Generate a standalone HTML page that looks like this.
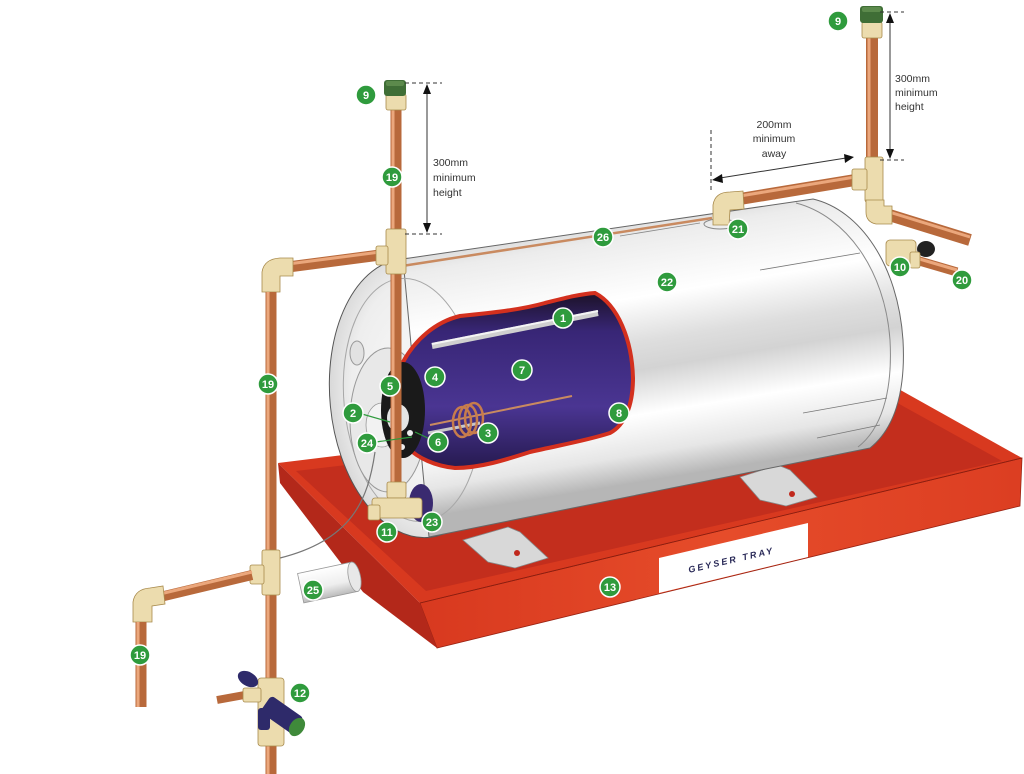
<!DOCTYPE html>
<html><head><meta charset="utf-8"><style>
html,body{margin:0;padding:0;background:#fff;}
svg{display:block;}
text{font-family:"Liberation Sans",sans-serif;}
.lbl circle{fill:#2f9b3d;stroke:#fff;stroke-width:1.5;}
.lbl text{fill:#fff;font-weight:bold;font-size:11px;text-anchor:middle;}
.dim{font-size:10.5px;fill:#333;}
.cu{stroke:#b8693b;stroke-linecap:butt;fill:none;}
.cuh{stroke:#eba77c;stroke-width:3;fill:none;}
.br{fill:#ecdcae;stroke:#a88a4c;stroke-width:0.8;}
</style></head><body>
<svg width="1024" height="774" viewBox="0 0 1024 774" xmlns="http://www.w3.org/2000/svg">
<defs>
 <linearGradient id="body" gradientUnits="userSpaceOnUse" x1="620" y1="205" x2="665" y2="478">
  <stop offset="0" stop-color="#cdcdcd"/>
  <stop offset="0.12" stop-color="#ececec"/>
  <stop offset="0.34" stop-color="#ffffff"/>
  <stop offset="0.5" stop-color="#dedede"/>
  <stop offset="0.6" stop-color="#d3d3d3"/>
  <stop offset="0.76" stop-color="#ffffff"/>
  <stop offset="0.9" stop-color="#e6e6e6"/>
  <stop offset="1" stop-color="#b6b6b6"/>
 </linearGradient>
 <radialGradient id="cap" cx="0.55" cy="0.5" r="0.6">
  <stop offset="0" stop-color="#fafafa"/>
  <stop offset="0.7" stop-color="#eeeeee"/>
  <stop offset="1" stop-color="#d0d0d0"/>
 </radialGradient>
 <linearGradient id="purp" x1="0" y1="0" x2="0" y2="1">
  <stop offset="0" stop-color="#1c1228"/>
  <stop offset="0.22" stop-color="#382676"/>
  <stop offset="0.65" stop-color="#4a3592"/>
  <stop offset="1" stop-color="#261a50"/>
 </linearGradient>
 <linearGradient id="front" x1="0" y1="0" x2="1" y2="0">
  <stop offset="0" stop-color="#d8391f"/>
  <stop offset="0.5" stop-color="#e64c2a"/>
  <stop offset="1" stop-color="#dc3e22"/>
 </linearGradient>
 <linearGradient id="pipe25" x1="0" y1="0" x2="0" y2="1">
  <stop offset="0" stop-color="#ffffff"/>
  <stop offset="0.6" stop-color="#eeeeee"/>
  <stop offset="1" stop-color="#bbbbbb"/>
 </linearGradient>
</defs>

<!-- TRAY -->
<polygon points="278,463 895,387 1022,458 420,603" fill="#d8391f"/>
<polygon points="296,471 892,400 1002,461 426,591" fill="#c32e1d"/>
<polygon points="420,603 1022,458 1020,506 437,648" fill="url(#front)" stroke="#9a2212" stroke-width="0.8"/>
<polygon points="278,463 420,603 437,648 363,592 280,483" fill="#b3281a"/>
<line x1="420" y1="603" x2="1022" y2="458" stroke="#8a1e10" stroke-width="0.8"/>
<polygon points="659,558 808,523 808,557 659,593" fill="#fff"/>
<text x="732" y="563" transform="rotate(-13 732 563)" font-size="9" font-weight="bold" font-style="italic" letter-spacing="2.2" fill="#2a2a58" text-anchor="middle">GEYSER TRAY</text>

<!-- feet -->
<polygon points="463,540 508,527 520,532 548,558 515,568 488,562" fill="#d8d8d8" stroke="#888" stroke-width="0.8"/>
<circle cx="517" cy="553" r="3" fill="#c0281c"/>
<polygon points="740,477 778,465 790,470 817,497 786,506 760,500" fill="#d8d8d8" stroke="#888" stroke-width="0.8"/>
<circle cx="792" cy="494" r="3" fill="#c0281c"/>

<!-- drain 25 -->
<g transform="rotate(-12 330 582)">
 <rect x="300" y="567" width="55" height="30" fill="url(#pipe25)" stroke="#999" stroke-width="0.8"/>
 <ellipse cx="355" cy="582" rx="6" ry="15" fill="#e8e8e8" stroke="#999" stroke-width="0.8"/>
</g>

<!-- TANK BODY -->
<ellipse cx="416" cy="398" rx="86" ry="140" transform="rotate(-5.5 416 398)" fill="url(#cap)" stroke="#555" stroke-width="1"/>
<path d="M403,259 L813,199 C860,210 898,265 903,340 C906,395 893,430 870,448 L429,537 Z" fill="url(#body)" stroke="#666" stroke-width="1"/>
<path d="M796,203 C846,216 885,270 890,340 C893,395 880,430 858,447" fill="none" stroke="#8a8a8a" stroke-width="1"/>
<line x1="760" y1="270" x2="860" y2="253" stroke="#777" stroke-width="0.8"/>
<line x1="803" y1="413" x2="887" y2="398" stroke="#777" stroke-width="0.8"/>
<line x1="817" y1="438" x2="880" y2="425" stroke="#777" stroke-width="0.8"/>
<line x1="620" y1="236" x2="700" y2="223" stroke="#888" stroke-width="0.8"/>
<!-- cap details -->
<ellipse cx="412" cy="400" rx="68" ry="122" transform="rotate(-5.5 412 400)" fill="none" stroke="#a8a8a8" stroke-width="1"/>
<ellipse cx="388" cy="420" rx="38" ry="72" fill="#e8e8e8" stroke="#999" stroke-width="1"/>
<ellipse cx="357" cy="353" rx="7" ry="12" fill="#e2e2e2" stroke="#999" stroke-width="1"/>
<ellipse cx="382" cy="425" rx="16" ry="22" fill="#f2f2f2" stroke="#999" stroke-width="0.8"/>

<!-- cutaway -->
<path d="M403,362 C415,340 435,322 460,316 C490,313 520,310 545,303 C565,298 580,294 595,293 C618,305 632,340 633,378 C633,405 625,425 610,433 C585,441 560,445 530,452 C505,460 480,468 455,468 C435,466 418,458 408,448 Z" fill="url(#purp)" stroke="#d3301e" stroke-width="4"/>
<line x1="432" y1="346" x2="598" y2="313" stroke="#cfcfcf" stroke-width="6"/>
<line x1="432" y1="344" x2="598" y2="311" stroke="#f4f4f4" stroke-width="2"/>
<line x1="430" y1="425" x2="572" y2="396" stroke="#c98a60" stroke-width="2"/>
<line x1="428" y1="433" x2="480" y2="423" stroke="#c8c8c8" stroke-width="3"/>
<g fill="none" stroke="#c77c4c" stroke-width="2.5">
 <ellipse cx="462" cy="422" rx="9" ry="15"/>
 <ellipse cx="468" cy="420" rx="9" ry="15"/>
 <ellipse cx="474" cy="418" rx="9" ry="15"/>
</g>
<ellipse cx="403" cy="410" rx="22" ry="48" fill="#1a1a1a"/>
<circle cx="390" cy="386" r="3" fill="#eee"/>
<circle cx="410" cy="433" r="3" fill="#eee"/>
<circle cx="402" cy="447" r="3" fill="#eee"/>
<ellipse cx="398" cy="418" rx="11" ry="14" fill="#e4e4e4"/>

<!-- thin pipe along top -->
<line x1="402" y1="266" x2="712" y2="218" stroke="#c98a60" stroke-width="2.5"/>

<!-- cable -->
<path d="M375,452 C368,500 352,540 280,558" fill="none" stroke="#777" stroke-width="1.2"/>

<!-- LEFT PIPES -->
<line class="cu" x1="396" y1="108" x2="396" y2="486" stroke-width="11"/>
<line class="cuh" x1="393" y1="108" x2="393" y2="486"/>
<rect class="br" x="386" y="94" width="20" height="16" rx="2"/>
<rect x="384" y="80" width="22" height="16" rx="3" fill="#3f6e36"/>
<rect x="386" y="81" width="18" height="5" rx="2" fill="#5c8a4c"/>
<line class="cu" x1="380" y1="255" x2="288" y2="267" stroke-width="11"/>
<line class="cuh" x1="380" y1="252" x2="288" y2="264"/>
<rect class="br" x="386" y="229" width="20" height="45" rx="2"/>
<rect class="br" x="376" y="246" width="12" height="19" rx="2"/>
<path class="br" d="M262,292 L262,272 Q264,259 280,258 L293,258 L293,276 L280,276 L280,292 Z"/>
<line class="cu" x1="271" y1="292" x2="271" y2="774" stroke-width="11"/>
<line class="cuh" x1="268" y1="292" x2="268" y2="774"/>
<rect class="br" x="262" y="550" width="18" height="45" rx="2"/>
<rect class="br" x="250" y="565" width="14" height="19" rx="2"/>
<line class="cu" x1="252" y1="575" x2="160" y2="597" stroke-width="10"/>
<line class="cuh" x1="252" y1="572" x2="160" y2="594"/>
<path class="br" d="M133,622 L133,602 Q135,589 150,588 L163,586 L165,604 L152,606 L152,622 Z"/>
<line class="cu" x1="141" y1="622" x2="141" y2="707" stroke-width="11"/>
<line class="cuh" x1="138" y1="622" x2="138" y2="707"/>
<!-- valve 12 -->
<line class="cu" x1="217" y1="700" x2="250" y2="694" stroke-width="8"/>
<rect class="br" x="258" y="678" width="26" height="68" rx="3"/>
<rect class="br" x="243" y="688" width="18" height="14" rx="2"/>
<ellipse cx="248" cy="679" rx="11" ry="7" transform="rotate(30 248 679)" fill="#2e2a6a"/>
<rect x="262" y="705" width="40" height="20" rx="4" transform="rotate(35 282 715)" fill="#2e2a6a"/>
<ellipse cx="297" cy="727" rx="7" ry="10" transform="rotate(35 297 727)" fill="#3f8a3a"/>
<rect x="258" y="708" width="12" height="22" rx="3" fill="#2e2a6a"/>
<!-- tee 11 -->
<rect class="br" x="387" y="482" width="19" height="16" rx="2"/>
<ellipse cx="421" cy="503" rx="12" ry="19" fill="#3a2a70"/>
<rect class="br" x="372" y="498" width="50" height="20" rx="3"/>
<rect class="br" x="368" y="505" width="12" height="15" rx="2"/>

<!-- RIGHT PIPES -->
<line class="cu" x1="872" y1="36" x2="872" y2="160" stroke-width="12"/>
<line class="cuh" x1="869" y1="36" x2="869" y2="160"/>
<rect class="br" x="862" y="22" width="20" height="16" rx="2"/>
<rect x="860" y="6" width="23" height="17" rx="3" fill="#3f6e36"/>
<rect x="862" y="7" width="19" height="5" rx="2" fill="#5c8a4c"/>
<line class="cu" x1="855" y1="180" x2="740" y2="199" stroke-width="12"/>
<line class="cuh" x1="855" y1="177" x2="740" y2="196"/>
<line class="cu" x1="886" y1="214" x2="970" y2="240" stroke-width="12"/>
<line class="cuh" x1="886" y1="211" x2="970" y2="237"/>
<ellipse cx="720" cy="224" rx="16" ry="5" fill="none" stroke="#888" stroke-width="1"/>
<path class="br" d="M713,225 L713,205 Q715,192 730,192 L743,191 L744,209 L730,210 L729,225 Z"/>
<rect class="br" x="865" y="157" width="18" height="45" rx="2"/>
<rect class="br" x="852" y="169" width="15" height="21" rx="2"/>
<path class="br" d="M866,200 L884,200 L884,206 L892,206 L892,224 L876,224 Q866,222 866,212 Z"/>
<line class="cu" x1="916" y1="260" x2="957" y2="272" stroke-width="9"/>
<line class="cuh" x1="916" y1="258" x2="957" y2="270"/>
<rect class="br" x="886" y="240" width="30" height="26" rx="4"/>
<ellipse cx="926" cy="249" rx="9" ry="8" fill="#222"/>
<rect class="br" x="910" y="252" width="10" height="16" rx="2"/>

<!-- DIMENSIONS -->
<g stroke="#333" stroke-width="1" fill="none">
 <line x1="405" y1="83" x2="442" y2="83" stroke-dasharray="4,3"/>
 <line x1="405" y1="234" x2="442" y2="234" stroke-dasharray="4,3"/>
 <line x1="427" y1="90" x2="427" y2="226"/>
 <line x1="880" y1="12" x2="904" y2="12" stroke-dasharray="4,3"/>
 <line x1="880" y1="160" x2="904" y2="160" stroke-dasharray="4,3"/>
 <line x1="890" y1="20" x2="890" y2="152"/>
 <line x1="711" y1="130" x2="711" y2="192" stroke-dasharray="4,3"/>
 <line x1="720" y1="178" x2="846" y2="158"/>
</g>
<g fill="#111">
 <polygon points="427,84 423,94 431,94"/>
 <polygon points="427,233 423,223 431,223"/>
 <polygon points="890,13 886,23 894,23"/>
 <polygon points="890,159 886,149 894,149"/>
 <polygon points="712,180 722,174 723,183"/>
 <polygon points="854,157 844,154 845,163"/>
</g>
<text class="dim" x="433" y="166">300mm</text>
<text class="dim" x="433" y="181">minimum</text>
<text class="dim" x="433" y="196">height</text>
<text class="dim" x="895" y="82">300mm</text>
<text class="dim" x="895" y="96">minimum</text>
<text class="dim" x="895" y="110">height</text>
<text class="dim" x="774" y="128" text-anchor="middle">200mm</text>
<text class="dim" x="774" y="142" text-anchor="middle">minimum</text>
<text class="dim" x="774" y="157" text-anchor="middle">away</text>

<!-- leaders -->
<g stroke="#2f9b3d" stroke-width="1.2">
 <line x1="362" y1="414" x2="390" y2="422"/>
 <line x1="376" y1="442" x2="412" y2="437"/>
 <line x1="432" y1="440" x2="415" y2="432"/>
</g>

<!-- LABELS -->
<g class="lbl">
 <g><circle cx="366" cy="95" r="10"/><text x="366" y="99">9</text></g>
 <g><circle cx="838" cy="21" r="10"/><text x="838" y="25">9</text></g>
 <g><circle cx="392" cy="177" r="10"/><text x="392" y="181">19</text></g>
 <g><circle cx="268" cy="384" r="10"/><text x="268" y="388">19</text></g>
 <g><circle cx="140" cy="655" r="10"/><text x="140" y="659">19</text></g>
 <g><circle cx="300" cy="693" r="10"/><text x="300" y="697">12</text></g>
 <g><circle cx="313" cy="590" r="10"/><text x="313" y="594">25</text></g>
 <g><circle cx="387" cy="532" r="10"/><text x="387" y="536">11</text></g>
 <g><circle cx="432" cy="522" r="10"/><text x="432" y="526">23</text></g>
 <g><circle cx="610" cy="587" r="10"/><text x="610" y="591">13</text></g>
 <g><circle cx="619" cy="413" r="10"/><text x="619" y="417">8</text></g>
 <g><circle cx="603" cy="237" r="10"/><text x="603" y="241">26</text></g>
 <g><circle cx="667" cy="282" r="10"/><text x="667" y="286">22</text></g>
 <g><circle cx="738" cy="229" r="10"/><text x="738" y="233">21</text></g>
 <g><circle cx="900" cy="267" r="10"/><text x="900" y="271">10</text></g>
 <g><circle cx="962" cy="280" r="10"/><text x="962" y="284">20</text></g>
 <g><circle cx="563" cy="318" r="10"/><text x="563" y="322">1</text></g>
 <g><circle cx="522" cy="370" r="10"/><text x="522" y="374">7</text></g>
 <g><circle cx="435" cy="377" r="10"/><text x="435" y="381">4</text></g>
 <g><circle cx="390" cy="386" r="10"/><text x="390" y="390">5</text></g>
 <g><circle cx="353" cy="413" r="10"/><text x="353" y="417">2</text></g>
 <g><circle cx="488" cy="433" r="10"/><text x="488" y="437">3</text></g>
 <g><circle cx="438" cy="442" r="10"/><text x="438" y="446">6</text></g>
 <g><circle cx="367" cy="443" r="10"/><text x="367" y="447">24</text></g>
</g>
</svg>
</body></html>
